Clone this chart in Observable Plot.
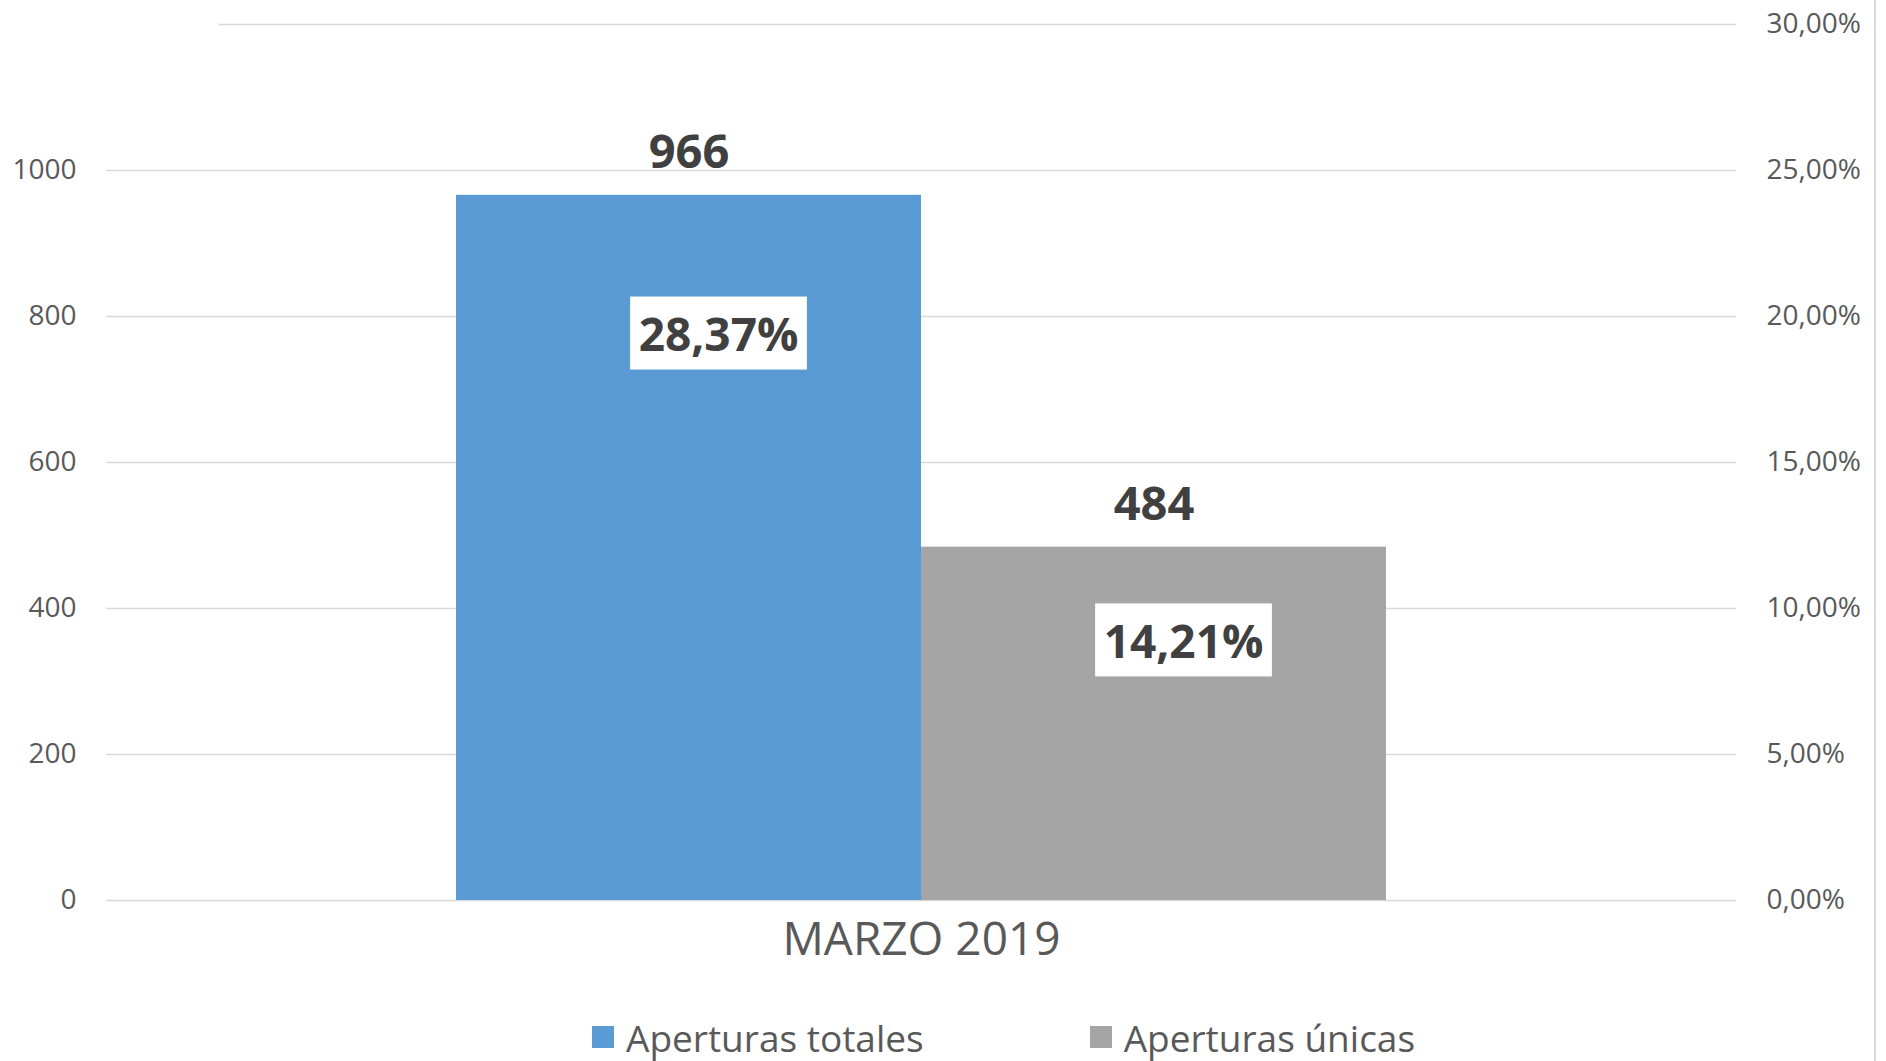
<!DOCTYPE html>
<html>
<head>
<meta charset="utf-8">
<script src="https://cdn.jsdelivr.net/npm/d3@7"></script>
<script src="https://cdn.jsdelivr.net/npm/@observablehq/plot@0.6"></script>
<style>
  html, body { margin: 0; padding: 0; background: #fff; }
  #wrap { position: relative; width: 1886px; height: 1061px; overflow: hidden; font-family: 'Open Sans', sans-serif; }
  #frame { position: absolute; left: 1874px; top: 0; width: 2px; height: 1061px; background: #d9d9d9; }
  #legend { position: absolute; left: 0; top: 1012px; height: 50px; display: flex; align-items: center; padding-left: 592px; color: #595959; font-size: 37px; }
  .item { display: flex; align-items: center; }
  .sw { width: 22px; height: 22px; margin-right: 12px; }
</style>
</head>
<body>
<div id="wrap">
  <div id="chart"></div>
  <div id="legend"></div>
  <div id="frame"></div>
</div>
<script>
const months = ["MARZO 2019"];
const series = ["Aperturas totales", "Aperturas únicas"];
const values = [966, 484];
const rates = [28.37, 14.21];
const colors = ["#5B9BD5", "#A5A5A5"];
const leftTicks = [0, 200, 400, 600, 800, 1000];
const rightTicks = [0, 200, 400, 600, 800, 1000, 1200];
const rightTickLabels = ["0,00%", "5,00%", "10,00%", "15,00%", "20,00%", "25,00%", "30,00%"];

const rows = series.map((s, i) => ({month: months[0], series: s, value: values[i], rate: rates[i]}));
const fmtRate = d => d.rate.toFixed(2).replace(".", ",") + "%";

const chart = Plot.plot({
  width: 1886,
  height: 985,
  marginLeft: 106,
  marginRight: 150,
  marginTop: 24,
  marginBottom: 85,
  style: {fontFamily: "'Open Sans', sans-serif", fontSize: "28px", color: "#595959", background: "white", overflow: "visible"},
  fx: {domain: months, padding: 0, label: null},
  x: {domain: series, paddingInner: 0, paddingOuter: 0.7516, axis: null},
  y: {domain: [0, 1200], label: null},
  color: {domain: series, range: colors},
  marks: [
    Plot.ruleY(leftTicks, {stroke: "#d9d9d9", strokeWidth: 1.5}),
    Plot.ruleY([1200], {stroke: "#d9d9d9", strokeWidth: 1.5, insetLeft: 113}),
    Plot.barY(rows, {fx: "month", x: "series", y: "value", fill: "series"}),
    Plot.text(rows, {fx: "month", x: "series", y: "value", text: d => String(d.value), dy: -42, fontSize: 47, fontWeight: "bold", fill: "#404040"}),
    Plot.text(rows.filter(d => d.series === series[0]), {fx: "month", x: "series", y: "value", text: fmtRate, dx: 29.5, dy: 141, fontSize: 46, fontWeight: "bold", fill: "#404040", className: "pct"}),
    Plot.text(rows.filter(d => d.series === series[1]), {fx: "month", x: "series", y: "value", text: fmtRate, dx: 29.5, dy: 96, fontSize: 46, fontWeight: "bold", fill: "#404040", className: "pct"}),
    Plot.axisY(leftTicks, {anchor: "left", tickSize: 0, tickPadding: 30, fontSize: 28, label: null, tickFormat: d => String(d)}),
    Plot.axisY(rightTicks, {anchor: "right", tickSize: 0, tickPadding: 30, fontSize: 28, label: null, textAnchor: "start",
      tickFormat: d => rightTickLabels[rightTicks.indexOf(d)]}),
    Plot.axisFx({anchor: "bottom", tickSize: 0, tickPadding: 22, fontSize: 46, label: null})
  ]
});
document.getElementById("chart").appendChild(chart);

// white boxes behind percentage labels
chart.querySelectorAll("g.pct text").forEach(t => {
  const b = t.getBBox();
  const r = document.createElementNS("http://www.w3.org/2000/svg", "rect");
  const cy = b.y + b.height / 2;
  r.setAttribute("x", b.x - 8.5);
  r.setAttribute("y", cy - 36.5);
  r.setAttribute("width", b.width + 17);
  r.setAttribute("height", 73);
  r.setAttribute("fill", "white");
  if (t.getAttribute("transform")) r.setAttribute("transform", t.getAttribute("transform"));
  t.parentNode.insertBefore(r, t);
});

// legend
const legend = document.getElementById("legend");
series.forEach((s, i) => {
  const item = document.createElement("div");
  item.className = "item";
  if (i === 0) item.style.marginRight = "166px";
  const sw = document.createElement("div");
  sw.className = "sw";
  sw.style.background = colors[i];
  const label = document.createElement("span");
  label.textContent = s;
  item.appendChild(sw);
  item.appendChild(label);
  legend.appendChild(item);
});
</script>
</body>
</html>
